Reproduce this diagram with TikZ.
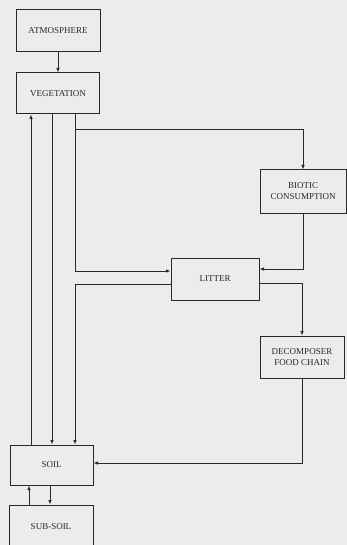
\documentclass[tikz,border=0pt]{standalone}
\usepackage{fontspec}
\setmainfont{Liberation Serif}
\usepackage{xcolor}
\usepackage{tikz}
\usetikzlibrary{arrows.meta,positioning,calc}
\definecolor{paper}{RGB}{236,236,236}
\definecolor{ink}{RGB}{40,40,40}
\tikzset{
	>=Latex,
	compbox/.style={
		draw=ink,
		line width=1pt,
		minimum width=84pt,
		minimum height=42pt,
		inner sep=1pt,
		align=center,
		text=ink,
		font=\fontsize{9}{11}\selectfont
	},
	flow/.style={
		-{Latex[length=4.5pt,width=3.6pt]},
		draw=ink,
		line width=0.8pt
	}
}

\begin{document}
\begin{tikzpicture}[x=1pt,y=-1pt]
	
	% --- PAGE ---
	\fill[paper] (0,0) rectangle (347,545);
	\useasboundingbox (0,0) rectangle (347,545);
	
	% --- COMPARTMENTS ---
	\node[compbox] (atm) at (58,31) {ATMOSPHERE};
	\node[compbox, minimum width=83pt, minimum height=41pt] (veg) at (58,93.5) {VEGETATION};
	\node[compbox, minimum width=86pt, minimum height=43pt] (bio) at (303,191.5) {BIOTIC\\CONSUMPTION};
	\node[compbox, minimum width=88pt] (lit) at (215,279) {LITTER};
	\node[compbox] (dec) at (302,357) {DECOMPOSER\\FOOD CHAIN};
	\node[compbox, minimum width=83pt, minimum height=40pt] (soil) at (51.5,465) {SOIL};
	\node[compbox, minimum height=44pt] (sub) at (51,527) {SUB-SOIL};
	
	% --- COLUMNS OF THE VERTICAL LINES ---
	\coordinate (colA) at (31,0);
	\coordinate (colB) at (52,0);
	\coordinate (colC) at (75,0);
	\coordinate (colD) at (29,0);
	\coordinate (colE) at (50,0);
	\coordinate (split) at (75,129);
	
	% --- FLOWS ---
	\draw[flow] (atm) -- (veg);
	\draw[flow] (soil.north -| colA) -- (veg.south -| colA);
	\draw[flow] (veg.south -| colB) -- (soil.north -| colB);
	\draw[flow] (veg.south -| colC) |- ([yshift=8pt]lit.west);
	\draw[flow] (split) -| (bio.north);
	\draw[flow] (bio.south) |- ([yshift=10pt]lit.east);
	\draw[flow] ([yshift=-4pt]lit.east) -| (dec.north);
	\draw[flow] ([yshift=-5pt]lit.west) -| (soil.north -| colC);
	\draw[flow] (dec.south) |- ([yshift=2pt]soil.east);
	\draw[flow] (sub.north -| colD) -- (soil.south -| colD);
	\draw[flow] (soil.south -| colE) -- (sub.north -| colE);
	
\end{tikzpicture}
\end{document}
